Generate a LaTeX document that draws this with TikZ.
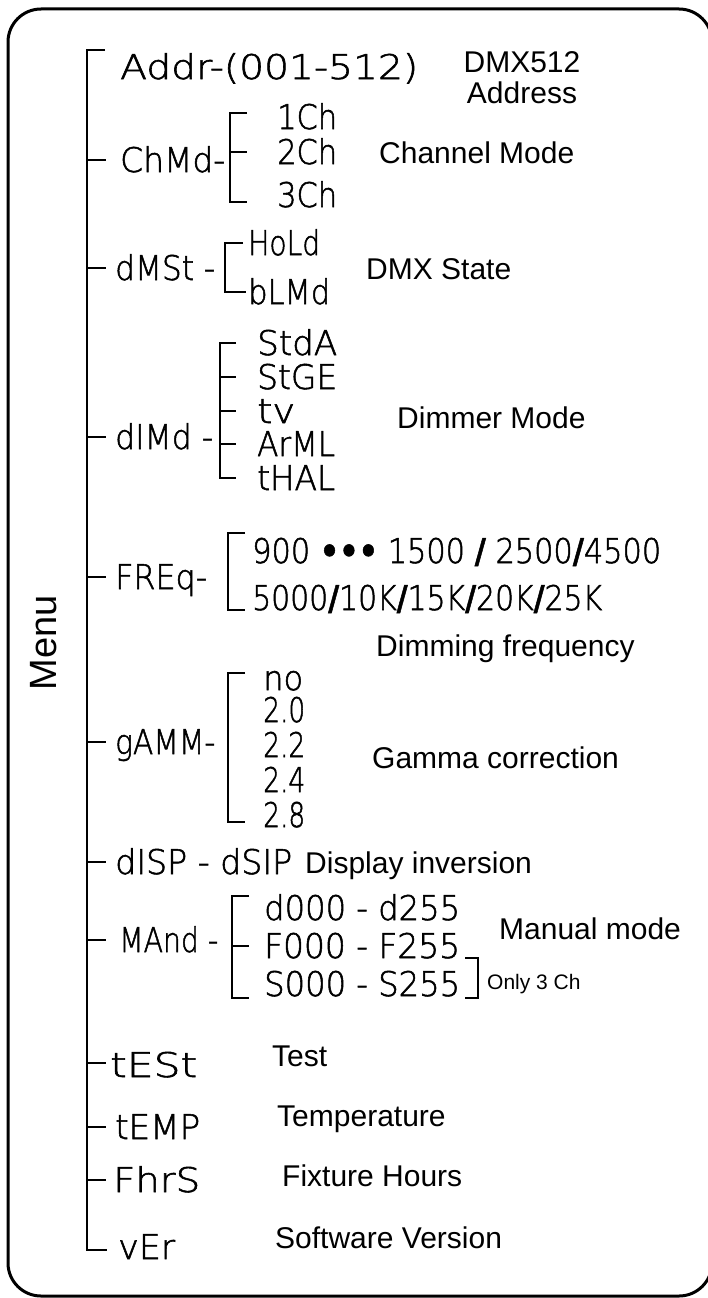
\documentclass[tikz,border=0pt]{standalone}
\usepackage{fontspec}
\usepackage{graphicx}
\newfontfamily\labfam{Liberation Sans}
\IfFontExistsTF{DejaVu Sans ExtraLight}
  {\newfontfamily\segfam{DejaVu Sans ExtraLight}[FakeBold=1.6,BoldFont={DejaVu Sans Bold}]}
  {\newfontfamily\segfam{DejaVu Sans}}
\newcommand\segfont{\segfam\fontsize{34}{36}\selectfont}
\newcommand\labfont{\labfam\fontsize{30}{31}\selectfont}
\newcommand\sfit[2]{\resizebox{#1pt}{\height}{#2}}
\begin{document}
\begin{tikzpicture}[x=1pt,y=1pt,
  seg/.style={anchor=base west, inner sep=0pt, font=\segfont},
  lab/.style={anchor=base west, inner sep=0pt, font=\labfont},
  trunk/.style={line width=1.8pt},
  brk/.style={line width=1.4pt},
  frame/.style={line width=3pt, rounded corners=33pt}]
\useasboundingbox (0,0) rectangle (708,-1298);
\clip (0,0) rectangle (708,-1298);
\draw[frame] (8,-9) rectangle (712,-1296);

% Menu
\node[font=\labfam\fontsize{38}{40}\selectfont, rotate=90, inner sep=0pt] (menu) at (44,-643) {Menu};

% seven-segment texts
\node[seg] (addr) at (120,-79) {\sfit{298}{Addr-(001-512)}};
\node[seg] (chmd) at (120,-172) {\sfit{105}{ChMd-}};
\node[seg] (ch1) at (277,-129) {\sfit{60}{1Ch}};
\node[seg] (ch2) at (277,-164) {\sfit{60}{2Ch}};
\node[seg] (ch3) at (277,-207) {\sfit{60}{3Ch}};
\node[seg] (dmst) at (115,-280) {\sfit{100}{dMSt -}};
\node[seg] (hold) at (248,-255) {\sfit{72}{HoLd}};
\node[seg] (blmd) at (248,-304) {\sfit{82}{bLMd}};
\node[seg] (dimd) at (115,-449) {\sfit{98}{dIMd -}};
\node[seg] (stda) at (257,-355) {\sfit{80}{StdA}};
\node[seg] (stge) at (257,-389) {\sfit{80}{StGE}};
\node[seg] (tv) at (257,-423) {\sfit{38}{tv}};
\node[seg] (arnl) at (257,-456) {\sfit{78}{ArML}};
\node[seg] (thal) at (257,-490) {\sfit{78}{tHAL}};
\node[seg] (freq) at (115,-589) {\sfit{92}{FREq-}};
\node[seg] (fa) at (252,-563) {\sfit{409}{900 \textbf{•••} 1500 \textbf{/} 2500\textbf{/}4500}};
\node[seg] (fb) at (252,-610) {\sfit{350}{5000\textbf{/}10K\textbf{/}15K\textbf{/}20K\textbf{/}25K}};
\node[seg] (gamm) at (115,-754) {\sfit{100}{gAMM-}};
\node[seg] (gno) at (263,-690) {\sfit{40}{no}};
\node[seg] (g20) at (263,-722) {\sfit{42}{2.0}};
\node[seg] (g22) at (263,-757) {\sfit{42}{2.2}};
\node[seg] (g24) at (263,-792) {\sfit{42}{2.4}};
\node[seg] (g28) at (263,-827) {\sfit{42}{2.8}};
\node[seg] (disp) at (115,-874) {\sfit{177}{dISP - dSIP}};
\node[seg] (mand) at (119,-952) {\sfit{99}{MAnd -}};
\node[seg] (m1) at (264,-920) {\sfit{196}{d000 - d255}};
\node[seg] (m2) at (264,-958) {\sfit{196}{F000 - F255}};
\node[seg] (m3) at (264,-996) {\sfit{196}{S000 - S255}};
\node[seg] (test) at (110,-1077) {\sfit{87}{tESt}};
\node[seg] (temp) at (115,-1139) {\sfit{85}{tEMP}};
\node[seg] (fhrs) at (113,-1192) {\sfit{87}{FhrS}};
\node[seg] (ver) at (118,-1259) {\sfit{57}{vEr}};

% labels
\node[font=\labfont, align=center, inner sep=0pt] (dmxaddr) at (522,-77.5) {DMX512\\Address};
\node[lab] (chmode) at (379,-163) {Channel Mode};
\node[lab] (dmxstate) at (366,-279) {DMX State};
\node[lab] (dimmer) at (397,-428) {Dimmer Mode};
\node[lab] (dimfreq) at (376,-656) {Dimming frequency};
\node[lab] (gamma) at (372,-768) {Gamma correction};
\node[lab] (dispinv) at (305,-873) {Display inversion};
\node[lab] (manual) at (499,-939) {Manual mode};
\node[anchor=base west, inner sep=0pt, font=\labfam\fontsize{21}{22}\selectfont] (only3) at (487,-989) {Only 3 Ch};
\node[lab] (testl) at (272,-1066) {Test};
\node[lab] (templ) at (277,-1126) {Temperature};
\node[lab] (fixl) at (282,-1186) {Fixture Hours};
\node[lab] (swl) at (275,-1248) {Software Version};

% trunk
\coordinate (ttop) at (87,-50);
\coordinate (tbot) at (87,-1250);
\draw[trunk] (105,-50) -- (ttop) -- (tbot) -- (107,-1250);
\foreach \yy in {160,268,437,577,742,862,940,1063,1127,1180}
  \draw[trunk] (87,-\yy) -- (106,-\yy);

% ChMd bracket
\coordinate (ca) at (230,-113);
\coordinate (cb) at (230,-202);
\draw[brk] (247,-113) -- (ca) -- (cb) -- (247,-202);
\draw[brk] (230,-152) -- (247,-152);
% dMSt bracket
\coordinate (da) at (225,-243);
\coordinate (db) at (225,-292);
\draw[brk] (243,-243) -- (da) -- (db) -- (246,-292);
% dIMd bracket
\coordinate (ia) at (220,-343);
\coordinate (ib) at (220,-478);
\draw[brk] (236,-343) -- (ia) -- (ib) -- (236,-478);
\foreach \yy in {377,411,444}
  \draw[brk] (220,-\yy) -- (236,-\yy);
% FREq bracket
\coordinate (fqa) at (228,-533);
\coordinate (fqb) at (228,-610);
\draw[brk] (245,-533) -- (fqa) -- (fqb) -- (245,-610);
% gAMM bracket
\coordinate (ga) at (228,-673);
\coordinate (gb) at (228,-822);
\draw[brk] (245,-673) -- (ga) -- (gb) -- (245,-822);
% MAnd bracket
\coordinate (ma) at (232,-896);
\coordinate (mb) at (232,-998);
\draw[brk] (249,-896) -- (ma) -- (mb) -- (249,-998);
\draw[brk] (232,-946) -- (249,-946);
% Only 3 Ch bracket
\coordinate (oa) at (478,-958);
\coordinate (ob) at (478,-998);
\draw[brk] (465,-958) -- (oa) -- (ob) -- (465,-998);
\end{tikzpicture}
\end{document}
